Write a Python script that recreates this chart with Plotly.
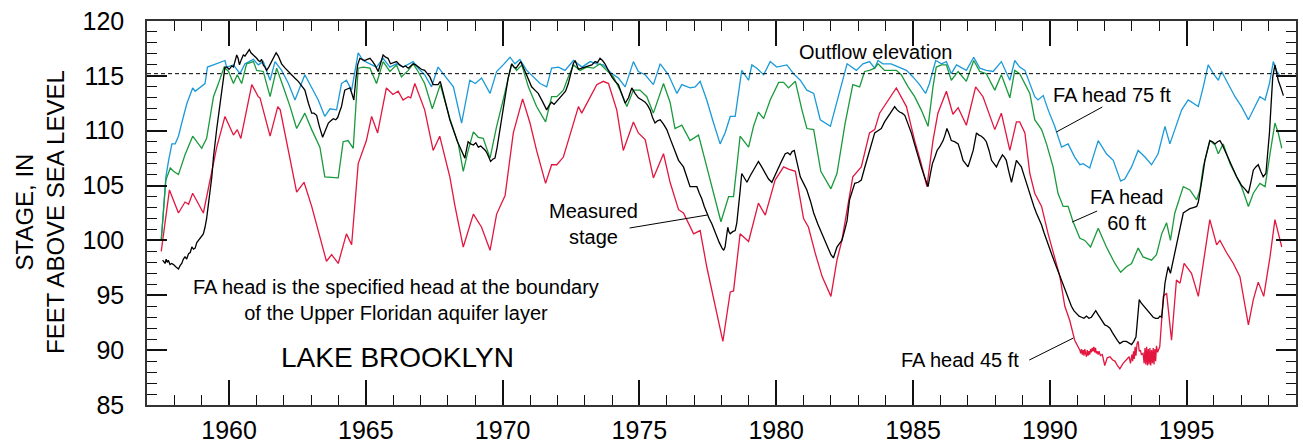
import plotly.graph_objects as go

# Lake Brooklyn stage and simulated stage for three Floridan-aquifer head scenarios

OUTFLOW_ELEV = 115.2

blue_years = [1957.52, 1957.69, 1957.79, 1957.91, 1958.03, 1958.15, 1958.27, 1958.46, 1958.67, 1958.76,
              1959.12, 1959.21, 1959.43, 1959.85, 1959.91, 1960.16, 1960.40, 1960.58, 1960.89, 1961.07,
              1961.25, 1961.50, 1961.68, 1961.92, 1962.17, 1962.41, 1962.77, 1963.02, 1963.26, 1963.50,
              1963.69, 1963.93, 1964.11, 1964.29, 1964.48, 1964.72, 1964.90, 1965.15, 1965.39, 1965.63,
              1965.88, 1966.12, 1966.36, 1966.73, 1966.91, 1967.15, 1967.40, 1967.64, 1967.95, 1968.20,
              1968.50, 1968.80, 1969.00, 1969.23, 1969.54, 1969.78, 1970.02, 1970.27, 1970.45, 1970.63,
              1970.88, 1971.12, 1971.37, 1971.61, 1971.79, 1972.04, 1972.28, 1972.59, 1972.90, 1973.20,
              1973.44, 1973.68, 1973.99, 1974.23, 1974.48, 1974.78, 1974.96, 1975.21, 1975.51, 1975.76,
              1976.06, 1976.37, 1976.55, 1976.85, 1977.04, 1977.22, 1977.46, 1977.71, 1977.95, 1978.13,
              1978.32, 1978.50, 1978.74, 1978.99, 1979.11, 1979.29, 1979.54, 1979.78, 1980.02, 1980.39,
              1980.63, 1980.88, 1981.12, 1981.37, 1981.61, 1981.98, 1982.28, 1982.59, 1982.93, 1983.17,
              1983.41, 1983.60, 1983.72, 1983.90, 1984.20, 1984.51, 1984.76, 1985.00, 1985.24, 1985.46,
              1985.60, 1985.83, 1986.04, 1986.22, 1986.40, 1986.59, 1986.95, 1987.22, 1987.44, 1987.68,
              1987.93, 1988.23, 1988.54, 1988.72, 1988.90, 1989.09, 1989.33, 1989.45, 1989.57, 1989.76,
              1989.94, 1990.18, 1990.43, 1990.67, 1990.91, 1991.10, 1991.22, 1991.46, 1991.77, 1992.07,
              1992.32, 1992.59, 1992.74, 1992.99, 1993.23, 1993.48, 1993.72, 1993.96, 1994.21, 1994.39,
              1994.57, 1994.82, 1995.06, 1995.43, 1995.61, 1995.79, 1995.98, 1996.16, 1996.28, 1996.52,
              1996.77, 1997.01, 1997.26, 1997.50, 1997.68, 1997.87, 1998.03, 1998.17, 1998.30, 1998.41]
blue_vals = [100.0, 105.8, 107.3, 108.8, 108.8, 109.5, 110.7, 112.5, 113.9, 113.6,
             114.3, 115.8, 116.0, 116.4, 115.8, 116.0, 115.2, 116.1, 116.5, 116.0,
             116.3, 114.6, 116.3, 115.5, 114.3, 112.8, 115.1, 113.9, 112.8, 111.3,
             112.0, 111.9, 114.3, 114.6, 113.7, 117.1, 116.4, 116.1, 115.8, 116.6,
             115.8, 116.1, 115.8, 116.3, 115.7, 115.1, 114.0, 115.8, 114.8, 114.0,
             110.7, 114.6, 114.3, 114.8, 113.4, 115.4, 116.0, 116.7, 116.1, 116.5,
             115.5, 114.9, 114.3, 114.0, 115.7, 115.8, 115.5, 116.4, 115.8, 116.3,
             116.1, 116.0, 115.2, 114.8, 114.0, 116.3, 115.4, 115.1, 114.2, 116.1,
             115.1, 113.4, 114.2, 113.9, 114.0, 114.5, 112.8, 110.7, 108.8, 109.8,
             111.3, 111.3, 115.5, 114.6, 116.0, 115.7, 115.1, 116.3, 115.8, 116.0,
             115.2, 114.6, 113.7, 113.4, 111.0, 110.4, 113.1, 116.1, 115.5, 116.1,
             116.3, 115.7, 116.4, 116.1, 116.1, 115.8, 115.5, 114.9, 114.2, 113.4,
             114.3, 116.4, 116.1, 116.3, 115.2, 116.0, 115.5, 116.7, 115.7, 115.5,
             115.4, 116.3, 114.6, 116.4, 115.8, 115.5, 114.0, 113.1, 112.8, 113.2,
             111.9, 110.4, 108.5, 108.8, 107.6, 106.9, 107.0, 106.6, 109.1, 107.9,
             107.3, 105.4, 105.6, 106.7, 108.2, 107.6, 106.9, 107.9, 110.4, 108.8,
             110.1, 111.9, 112.8, 112.2, 114.0, 116.0, 115.2, 114.6, 115.4, 114.3,
             113.1, 112.2, 111.0, 112.2, 113.1, 112.8, 114.3, 116.3, 115.4, 115.0]

green_years = [1957.52, 1957.69, 1957.85, 1957.97, 1958.15, 1958.39, 1958.67, 1959.00, 1959.18, 1959.43,
               1959.61, 1959.82, 1959.98, 1960.16, 1960.30, 1960.46, 1960.64, 1960.89, 1961.01, 1961.25,
               1961.50, 1961.74, 1961.98, 1962.23, 1962.47, 1962.77, 1963.02, 1963.32, 1963.50, 1963.99,
               1964.17, 1964.35, 1964.54, 1964.72, 1964.90, 1965.15, 1965.39, 1965.63, 1965.88, 1966.12,
               1966.30, 1966.55, 1966.73, 1966.91, 1967.15, 1967.43, 1967.72, 1968.07, 1968.38, 1968.56,
               1968.74, 1968.93, 1969.11, 1969.29, 1969.54, 1969.78, 1970.02, 1970.33, 1970.51, 1970.70,
               1970.94, 1971.24, 1971.57, 1971.79, 1971.98, 1972.22, 1972.40, 1972.59, 1972.83, 1973.07,
               1973.32, 1973.56, 1973.80, 1974.05, 1974.29, 1974.54, 1974.78, 1975.02, 1975.27, 1975.51,
               1975.88, 1976.12, 1976.30, 1976.55, 1976.85, 1977.16, 1977.40, 1977.71, 1977.98, 1978.26,
               1978.44, 1978.68, 1978.99, 1979.17, 1979.35, 1979.54, 1979.78, 1980.09, 1980.27, 1980.45,
               1980.70, 1980.94, 1981.12, 1981.37, 1981.63, 1982.00, 1982.22, 1982.52, 1982.80, 1983.05,
               1983.23, 1983.41, 1983.60, 1983.72, 1983.96, 1984.39, 1984.57, 1984.82, 1985.06, 1985.30,
               1985.55, 1985.73, 1985.85, 1986.04, 1986.22, 1986.40, 1986.65, 1986.95, 1987.22, 1987.44,
               1987.68, 1987.99, 1988.23, 1988.54, 1988.72, 1988.90, 1989.09, 1989.27, 1989.45, 1989.70,
               1989.88, 1990.12, 1990.30, 1990.49, 1990.67, 1990.85, 1991.10, 1991.28, 1991.49, 1991.77,
               1992.07, 1992.38, 1992.59, 1992.80, 1992.99, 1993.23, 1993.41, 1993.72, 1993.90, 1994.09,
               1994.27, 1994.41, 1994.57, 1994.88, 1995.12, 1995.37, 1995.49, 1995.61, 1995.85, 1996.04,
               1996.16, 1996.34, 1996.59, 1996.83, 1997.01, 1997.26, 1997.44, 1997.68, 1997.87, 1998.05,
               1998.23, 1998.35, 1998.48]
green_vals = [100.0, 105.5, 106.6, 106.3, 106.0, 107.8, 109.5, 108.4, 109.3, 113.1,
              114.3, 115.8, 115.4, 114.3, 115.1, 114.3, 116.1, 116.3, 115.5, 115.4,
              113.1, 115.7, 114.0, 112.2, 110.2, 111.6, 110.1, 108.5, 105.8, 105.7,
              109.0, 109.1, 108.4, 115.7, 115.8, 115.7, 114.3, 116.3, 115.4, 116.0,
              114.9, 115.5, 116.1, 115.4, 114.3, 112.0, 114.2, 111.1, 108.8, 106.3,
              108.2, 109.9, 109.4, 109.3, 107.5, 110.4, 112.8, 116.1, 115.5, 116.0,
              114.0, 112.2, 110.8, 113.1, 113.1, 113.7, 114.9, 116.0, 115.5, 115.8,
              115.7, 116.1, 115.5, 114.9, 113.7, 112.2, 113.7, 113.7, 113.1, 111.6,
              114.3, 112.6, 110.2, 110.5, 109.1, 109.6, 107.3, 104.3, 101.7, 104.0,
              104.0, 109.5, 108.5, 110.4, 111.7, 111.1, 112.8, 114.4, 114.4, 113.9,
              114.5, 111.9, 110.2, 110.1, 106.3, 104.7, 106.1, 110.7, 114.2, 114.0,
              115.4, 115.5, 115.7, 116.1, 115.5, 115.5, 115.1, 114.0, 113.1, 111.9,
              110.4, 114.0, 115.8, 116.0, 116.0, 114.6, 115.4, 114.5, 116.4, 115.4,
              115.2, 113.7, 115.1, 113.0, 115.5, 115.2, 114.3, 113.4, 111.0, 110.1,
              108.8, 106.7, 104.3, 103.1, 103.1, 101.7, 100.2, 100.0, 99.4, 101.1,
              99.4, 97.9, 97.1, 97.6, 97.9, 99.3, 98.5, 98.2, 98.7, 100.6,
              101.6, 100.0, 102.5, 104.9, 104.6, 103.7, 104.6, 106.7, 109.1, 108.7,
              107.9, 108.8, 107.0, 105.8, 104.9, 103.1, 104.3, 105.2, 104.9, 107.9,
              110.7, 109.8, 108.4]

red_years = [1957.52, 1957.82, 1958.15, 1958.39, 1958.52, 1958.67, 1959.06, 1959.55, 1959.85, 1960.16,
             1960.30, 1960.43, 1960.83, 1961.07, 1961.13, 1961.50, 1961.78, 1961.87, 1962.47, 1962.74,
             1963.02, 1963.26, 1963.56, 1963.75, 1963.99, 1964.29, 1964.48, 1964.72, 1965.02, 1965.21,
             1965.43, 1965.75, 1965.99, 1966.18, 1966.36, 1966.55, 1966.64, 1966.79, 1967.15, 1967.46,
             1967.70, 1968.07, 1968.26, 1968.56, 1968.93, 1969.23, 1969.54, 1969.78, 1970.09, 1970.39,
             1970.73, 1971.00, 1971.24, 1971.57, 1971.79, 1971.98, 1972.22, 1972.52, 1972.77, 1972.89,
             1973.13, 1973.44, 1973.68, 1973.87, 1974.17, 1974.41, 1974.78, 1974.96, 1975.21, 1975.51,
             1975.88, 1976.12, 1976.43, 1976.61, 1976.98, 1977.22, 1977.46, 1977.77, 1978.05, 1978.32,
             1978.44, 1978.68, 1978.99, 1979.35, 1979.60, 1979.96, 1980.27, 1980.45, 1980.70, 1981.00,
             1981.18, 1981.43, 1981.68, 1982.00, 1982.22, 1982.40, 1982.80, 1983.11, 1983.41, 1983.60,
             1983.78, 1984.39, 1984.76, 1985.06, 1985.30, 1985.51, 1985.73, 1985.91, 1986.22, 1986.46,
             1986.65, 1986.95, 1987.29, 1987.56, 1987.80, 1987.99, 1988.23, 1988.54, 1988.78, 1988.90,
             1989.09, 1989.27, 1989.45, 1989.70, 1989.94, 1990.18, 1990.37, 1990.55, 1990.73, 1990.91,
             1991.10, 1991.13, 1991.16, 1991.19, 1991.22, 1991.25, 1991.28, 1991.31, 1991.34, 1991.37,
             1991.40, 1991.43, 1991.46, 1991.49, 1991.52, 1991.55, 1991.58, 1991.61, 1991.64, 1991.67,
             1991.70, 1991.73, 1991.77, 1991.80, 1991.85, 1991.92, 1992.01, 1992.10, 1992.20, 1992.30,
             1992.38, 1992.47, 1992.56, 1992.68, 1992.80, 1992.90, 1992.95, 1993.00, 1993.03, 1993.06,
             1993.09, 1993.12, 1993.15, 1993.19, 1993.23, 1993.27, 1993.31, 1993.35, 1993.41, 1993.45,
             1993.48, 1993.51, 1993.54, 1993.57, 1993.60, 1993.63, 1993.66, 1993.69, 1993.72, 1993.75,
             1993.78, 1993.81, 1993.84, 1993.87, 1993.90, 1993.94, 1994.02, 1994.15, 1994.27, 1994.45,
             1994.63, 1994.76, 1994.91, 1995.18, 1995.43, 1995.67, 1995.85, 1996.10, 1996.22, 1996.46,
             1996.71, 1996.95, 1997.26, 1997.44, 1997.62, 1997.82, 1998.05, 1998.23, 1998.35, 1998.48]
red_vals = [99.0, 104.6, 102.5, 103.5, 103.3, 104.3, 102.5, 108.5, 111.3, 109.6,
            110.1, 109.3, 114.2, 113.1, 113.0, 109.5, 112.2, 111.9, 104.4, 105.3,
            103.1, 100.9, 98.1, 98.7, 97.9, 100.6, 99.6, 107.0, 109.1, 111.3,
            109.8, 113.9, 113.3, 113.6, 112.8, 113.1, 113.0, 114.3, 111.9, 108.2,
            109.5, 105.8, 103.1, 99.4, 102.4, 101.2, 99.1, 102.4, 104.1, 109.8,
            112.9, 110.7, 108.2, 105.2, 106.9, 106.9, 107.6, 110.1, 112.2, 111.6,
            112.8, 114.2, 114.5, 114.3, 111.9, 108.2, 110.8, 109.8, 109.2, 105.7,
            107.9, 105.3, 102.8, 102.5, 100.6, 100.9, 97.6, 94.0, 90.8, 95.3,
            95.4, 100.6, 99.9, 103.4, 102.3, 105.5, 106.7, 106.5, 106.3, 102.0,
            101.2, 98.8, 96.7, 94.9, 98.2, 100.0, 105.8, 106.7, 109.8, 110.1,
            111.6, 113.9, 112.2, 109.1, 107.0, 104.9, 109.1, 111.6, 113.6, 111.5,
            112.1, 110.5, 114.0, 113.1, 111.4, 110.1, 111.6, 108.2, 110.8, 110.8,
            109.8, 106.1, 104.3, 103.1, 100.6, 98.5, 96.7, 94.0, 92.7, 90.9,
            90.0, 89.7, 90.1, 89.6, 90.0, 89.5, 90.1, 89.7, 89.4, 90.0,
            89.5, 89.9, 89.6, 90.1, 89.8, 90.2, 89.9, 90.3, 89.8, 90.2,
            89.7, 89.9, 89.6, 89.9, 89.5, 89.6, 88.6, 89.3, 89.4, 89.1,
            89.0, 88.6, 88.3, 88.8, 89.1, 89.4, 88.8, 89.6, 89.0, 89.9,
            89.2, 90.3, 89.5, 90.6, 90.8, 89.9, 90.0, 89.6, 89.7, 88.8,
            90.2, 88.7, 90.3, 88.6, 90.1, 88.7, 90.2, 88.6, 90.0, 88.8,
            90.2, 88.7, 90.1, 89.0, 90.4, 89.8, 90.3, 94.9, 95.2, 90.9,
            96.4, 96.1, 97.9, 97.0, 94.9, 99.1, 101.9, 99.6, 100.0, 98.9,
            97.9, 96.7, 92.3, 94.6, 96.2, 94.9, 98.5, 101.9, 100.6, 99.4]

stage_years = [1957.57, 1957.62, 1957.66, 1957.70, 1957.74, 1957.78, 1957.84, 1957.90, 1957.97, 1958.05,
               1958.10, 1958.15, 1958.21, 1958.27, 1958.33, 1958.39, 1958.45, 1958.52, 1958.58, 1958.64,
               1958.70, 1958.76, 1958.82, 1958.88, 1958.94, 1959.00, 1959.06, 1959.12, 1959.18, 1959.25,
               1959.31, 1959.37, 1959.43, 1959.49, 1959.55, 1959.61, 1959.67, 1959.73, 1959.79, 1959.85,
               1959.92, 1960.00, 1960.04, 1960.10, 1960.16, 1960.22, 1960.28, 1960.33, 1960.38, 1960.45,
               1960.52, 1960.58, 1960.64, 1960.70, 1960.74, 1960.80, 1960.89, 1960.95, 1961.01, 1961.07,
               1961.13, 1961.19, 1961.25, 1961.31, 1961.37, 1961.45, 1961.55, 1961.65, 1961.72, 1961.80,
               1961.92, 1962.05, 1962.23, 1962.40, 1962.53, 1962.65, 1962.77, 1962.90, 1963.02, 1963.10,
               1963.20, 1963.30, 1963.42, 1963.50, 1963.57, 1963.63, 1963.72, 1963.81, 1963.90, 1963.97,
               1964.05, 1964.11, 1964.17, 1964.23, 1964.32, 1964.42, 1964.50, 1964.56, 1964.63, 1964.70,
               1964.78, 1964.87, 1964.96, 1965.05, 1965.15, 1965.25, 1965.33, 1965.45, 1965.55, 1965.63,
               1965.72, 1965.81, 1965.90, 1966.00, 1966.12, 1966.24, 1966.36, 1966.45, 1966.55, 1966.64,
               1966.73, 1966.82, 1966.91, 1967.03, 1967.15, 1967.25, 1967.34, 1967.46, 1967.55, 1967.64,
               1967.72, 1967.82, 1967.89, 1968.07, 1968.16, 1968.26, 1968.35, 1968.44, 1968.53, 1968.62,
               1968.68, 1968.74, 1968.83, 1968.93, 1969.02, 1969.11, 1969.20, 1969.29, 1969.37, 1969.44,
               1969.50, 1969.56, 1969.64, 1969.72, 1969.80, 1969.90, 1970.00, 1970.09, 1970.20, 1970.33,
               1970.41, 1970.49, 1970.57, 1970.66, 1970.77, 1970.88, 1970.97, 1971.06, 1971.18, 1971.30,
               1971.45, 1971.61, 1971.70, 1971.79, 1971.88, 1971.98, 1972.10, 1972.22, 1972.30, 1972.40,
               1972.46, 1972.52, 1972.58, 1972.65, 1972.71, 1972.77, 1972.89, 1973.01, 1973.13, 1973.26,
               1973.38, 1973.47, 1973.56, 1973.65, 1973.74, 1973.86, 1973.99, 1974.11, 1974.23, 1974.35,
               1974.48, 1974.60, 1974.72, 1974.84, 1974.96, 1975.09, 1975.21, 1975.30, 1975.39, 1975.48,
               1975.57, 1975.66, 1975.76, 1975.88, 1976.00, 1976.12, 1976.24, 1976.33, 1976.43, 1976.52,
               1976.61, 1976.73, 1976.85, 1976.97, 1977.10, 1977.19, 1977.28, 1977.37, 1977.46, 1977.55,
               1977.65, 1977.74, 1977.83, 1977.92, 1978.02, 1978.08, 1978.13, 1978.18, 1978.23, 1978.27,
               1978.32, 1978.41, 1978.50, 1978.56, 1978.62, 1978.68, 1978.74, 1978.84, 1978.93, 1979.05,
               1979.17, 1979.26, 1979.35, 1979.47, 1979.60, 1979.72, 1979.84, 1979.96, 1980.09, 1980.21,
               1980.33, 1980.42, 1980.51, 1980.58, 1980.66, 1980.77, 1980.88, 1981.00, 1981.12, 1981.25,
               1981.37, 1981.52, 1981.68, 1981.80, 1981.93, 1982.00, 1982.09, 1982.15, 1982.22, 1982.31,
               1982.40, 1982.50, 1982.59, 1982.68, 1982.78, 1982.87, 1983.00, 1983.11, 1983.23, 1983.35,
               1983.47, 1983.60, 1983.72, 1983.84, 1983.96, 1984.09, 1984.21, 1984.33, 1984.42, 1984.51,
               1984.60, 1984.70, 1984.82, 1984.94, 1985.03, 1985.12, 1985.21, 1985.30, 1985.42, 1985.55,
               1985.63, 1985.71, 1985.80, 1985.88, 1985.99, 1986.10, 1986.17, 1986.24, 1986.32, 1986.40,
               1986.52, 1986.65, 1986.74, 1986.83, 1986.92, 1987.01, 1987.10, 1987.20, 1987.26, 1987.32,
               1987.41, 1987.50, 1987.59, 1987.68, 1987.78, 1987.87, 1987.96, 1988.05, 1988.16, 1988.27,
               1988.34, 1988.41, 1988.50, 1988.60, 1988.69, 1988.78, 1988.87, 1988.96, 1989.05, 1989.15,
               1989.24, 1989.33, 1989.42, 1989.51, 1989.60, 1989.70, 1989.79, 1989.88, 1989.97, 1990.06,
               1990.15, 1990.24, 1990.33, 1990.43, 1990.52, 1990.61, 1990.70, 1990.79, 1990.88, 1990.98,
               1991.07, 1991.16, 1991.25, 1991.34, 1991.43, 1991.52, 1991.60, 1991.68, 1991.75, 1991.83,
               1991.92, 1992.01, 1992.10, 1992.20, 1992.29, 1992.38, 1992.47, 1992.56, 1992.68, 1992.80,
               1992.90, 1992.99, 1993.07, 1993.15, 1993.21, 1993.27, 1993.34, 1993.41, 1993.50, 1993.60,
               1993.69, 1993.78, 1993.87, 1993.96, 1994.03, 1994.09, 1994.15, 1994.21, 1994.27, 1994.33,
               1994.41, 1994.51, 1994.60, 1994.70, 1994.79, 1994.88, 1995.00, 1995.12, 1995.25, 1995.37,
               1995.43, 1995.49, 1995.58, 1995.67, 1995.76, 1995.85, 1995.95, 1996.04, 1996.13, 1996.22,
               1996.31, 1996.40, 1996.50, 1996.59, 1996.71, 1996.83, 1996.92, 1997.01, 1997.13, 1997.26,
               1997.35, 1997.44, 1997.53, 1997.62, 1997.71, 1997.80, 1997.90, 1998.03, 1998.09, 1998.15,
               1998.23, 1998.29, 1998.35, 1998.45, 1998.54]
stage_vals = [98.2, 98.0, 97.9, 98.3, 98.0, 98.2, 97.8, 97.9, 97.8, 97.6,
              97.5, 97.4, 97.7, 97.9, 98.3, 98.5, 98.3, 98.8, 98.9, 99.4,
              99.2, 99.3, 99.8, 100.0, 100.1, 100.3, 100.6, 101.2, 102.0, 103.4,
              104.5, 105.8, 107.6, 109.1, 110.2, 111.3, 112.4, 113.7, 114.8, 115.8,
              115.8, 115.6, 115.7, 115.9, 115.8, 116.4, 116.9, 116.6, 116.0, 116.5,
              116.9, 116.8, 117.0, 117.2, 117.4, 117.1, 116.9, 116.8, 116.6, 116.4,
              116.3, 116.5, 116.0, 115.8, 115.5, 115.8, 116.3, 116.8, 117.1, 116.8,
              116.1, 115.7, 115.2, 114.8, 114.5, 114.1, 113.7, 112.5, 111.6, 111.6,
              111.4, 110.4, 109.4, 109.9, 110.4, 110.7, 110.9, 111.1, 111.0, 111.2,
              111.8, 112.2, 113.0, 113.7, 113.8, 113.9, 113.3, 112.8, 114.6, 116.0,
              116.6, 116.5, 116.4, 116.5, 116.6, 116.3, 116.0, 115.4, 116.3, 116.9,
              116.7, 116.6, 116.1, 116.2, 116.3, 116.0, 115.8, 115.9, 115.7, 115.9,
              116.1, 116.0, 115.8, 115.6, 115.5, 115.2, 114.9, 114.2, 114.2, 114.2,
              114.5, 113.4, 112.8, 111.0, 110.3, 109.6, 109.0, 108.5, 108.0, 107.5,
              108.3, 109.0, 108.8, 108.7, 108.9, 108.5, 108.6, 108.4, 108.2, 107.9,
              107.5, 107.2, 107.4, 107.5, 108.5, 110.1, 111.8, 113.1, 114.8, 116.1,
              115.8, 115.7, 116.0, 116.3, 115.7, 115.1, 114.6, 114.0, 113.7, 113.4,
              112.7, 111.9, 112.3, 112.6, 112.4, 112.7, 113.0, 113.4, 113.6, 114.3,
              114.9, 115.7, 116.1, 116.4, 115.9, 115.6, 115.7, 115.8, 115.9, 116.0,
              116.3, 116.2, 116.6, 116.4, 116.1, 115.5, 114.9, 114.5, 114.2, 113.4,
              112.5, 113.0, 113.9, 113.4, 113.0, 112.8, 112.6, 112.3, 111.9, 111.2,
              110.7, 110.9, 111.0, 110.6, 110.1, 109.3, 108.5, 108.0, 107.3, 107.0,
              106.7, 105.8, 104.9, 104.9, 104.9, 104.3, 103.8, 103.1, 102.5, 102.0,
              101.5, 100.9, 100.3, 99.8, 99.3, 99.1, 99.4, 100.4, 101.2, 100.8,
              100.6, 100.8, 100.9, 101.6, 102.8, 104.5, 106.1, 105.7, 105.3, 105.9,
              106.4, 106.8, 107.2, 106.7, 106.1, 105.6, 105.3, 106.0, 106.7, 107.3,
              107.9, 108.0, 107.8, 108.1, 108.2, 107.0, 105.8, 105.2, 104.6, 103.6,
              102.5, 101.5, 100.6, 99.9, 99.1, 98.7, 98.4, 98.9, 99.4, 99.7,
              100.0, 100.9, 101.8, 103.7, 104.5, 105.2, 105.3, 105.5, 106.6, 107.6,
              108.7, 109.8, 110.0, 110.2, 110.8, 111.3, 111.8, 112.2, 111.9, 111.7,
              111.6, 111.4, 110.6, 109.8, 109.0, 108.2, 107.5, 106.7, 105.8, 104.9,
              106.0, 107.0, 107.6, 108.2, 108.6, 109.1, 109.6, 110.2, 109.7, 109.1,
              109.0, 108.8, 108.1, 107.3, 107.0, 106.7, 107.4, 108.2, 109.0, 109.8,
              109.6, 109.5, 109.3, 109.0, 108.2, 107.3, 107.0, 106.7, 107.3, 107.8,
              107.6, 107.3, 106.3, 105.3, 106.3, 107.3, 107.0, 106.7, 106.0, 105.2,
              104.5, 103.7, 103.1, 102.5, 102.0, 101.4, 100.7, 100.0, 99.4, 98.8,
              98.2, 97.6, 97.0, 96.4, 95.8, 95.2, 94.6, 94.0, 93.6, 93.3,
              93.1, 93.0, 92.9, 93.1, 92.9, 93.0, 93.3, 93.6, 93.3, 93.0,
              92.6, 92.3, 92.2, 92.0, 91.6, 91.2, 90.9, 90.6, 90.8, 90.8,
              90.6, 90.5, 90.8, 91.2, 92.9, 94.6, 94.3, 94.1, 93.8, 93.5,
              93.2, 93.0, 92.9, 92.9, 93.1, 93.0, 94.5, 96.1, 96.9, 97.6,
              97.0, 98.2, 99.4, 100.6, 101.6, 102.5, 102.7, 102.9, 103.0, 103.1,
              103.5, 104.3, 105.8, 107.3, 108.2, 109.1, 109.0, 108.8, 109.0, 109.1,
              108.7, 108.2, 107.6, 107.0, 106.4, 105.8, 105.4, 105.0, 104.7, 104.3,
              105.3, 106.4, 106.7, 106.9, 106.3, 105.8, 106.1, 109.8, 112.4, 114.9,
              116.0, 115.3, 114.6, 113.9, 113.2]

FONT = "Liberation Sans, Arial, Helvetica, sans-serif"
LINE_W = 1.3

fig = go.Figure()
fig.add_trace(go.Scatter(x=blue_years, y=blue_vals, mode="lines",
                         line=dict(color="#1b9ad8", width=LINE_W), name="FA head 75 ft"))
fig.add_trace(go.Scatter(x=green_years, y=green_vals, mode="lines",
                         line=dict(color="#1a9a3c", width=LINE_W), name="FA head 60 ft"))
fig.add_trace(go.Scatter(x=red_years, y=red_vals, mode="lines",
                         line=dict(color="#e2163f", width=LINE_W), name="FA head 45 ft"))
fig.add_trace(go.Scatter(x=stage_years, y=stage_vals, mode="lines",
                         line=dict(color="#000000", width=LINE_W), name="Measured stage"))

# outflow elevation reference line
fig.add_shape(type="line", xref="x domain", yref="y", x0=0, x1=1,
              y0=OUTFLOW_ELEV, y1=OUTFLOW_ELEV,
              line=dict(color="black", width=1, dash="4px,3px"))

# leader lines from labels to curves
leaders = [
    ((1974.64, 101.13), (1977.49, 102.32)),
    ((1991.92, 112.16), (1990.24, 109.88)),
    ((1991.73, 102.68), (1990.82, 101.68)),
    ((1989.25, 89.10), (1990.86, 91.10)),
]
for (xa, ya), (xb, yb) in leaders:
    fig.add_shape(type="line", xref="x", yref="y", x0=xa, y0=ya, x1=xb, y1=yb,
                  line=dict(color="black", width=1))

txt = dict(family=FONT, size=20, color="black")
labels = [
    (1983.63, 117.17, "Outflow elevation", txt),
    (1966.09, 94.57, "FA head is the specified head at the boundary<br>of the Upper Floridan aquifer layer", txt),
    (1966.16, 89.37, "LAKE BROOKLYN", dict(family=FONT, size=28, color="black")),
    (1973.33, 101.50, "Measured<br>stage", txt),
    (1992.28, 113.25, "FA head 75 ft", txt),
    (1992.79, 102.77, "FA head<br>60 ft", txt),
    (1986.73, 89.10, "FA head 45 ft", txt),
]
for x, y, t, f in labels:
    fig.add_annotation(x=x, y=y, xref="x", yref="y", text=t, showarrow=False,
                       font=f, xanchor="center", yanchor="middle", align="center")

fig.add_annotation(x=-0.0931, y=0.503, xref="paper", yref="paper",
                   text="STAGE, IN<br>FEET ABOVE SEA LEVEL", textangle=-90, showarrow=False,
                   font=dict(family=FONT, size=24, color="black"),
                   xanchor="center", yanchor="middle", align="center")

axis_common = dict(showline=True, linecolor="#333333", linewidth=1.5, mirror="allticks",
                   ticks="inside", tickcolor="#111111", tickwidth=2, showgrid=False, zeroline=False,
                   automargin=False, tickfont=dict(family=FONT, size=25, color="black"))

fig.update_xaxes(range=[1957, 1999], tickmode="linear", tick0=1960, dtick=5, ticklen=25,
                 minor=dict(ticks="inside", dtick=1, tick0=1957, ticklen=10, tickwidth=1.3,
                            tickcolor="#111111", showgrid=False),
                 ticklabelstandoff=2, **axis_common)
fig.update_yaxes(range=[85, 120], tickmode="linear", tick0=85, dtick=5, ticklen=20,
                 minor=dict(ticks="inside", dtick=1, tick0=85, ticklen=10, tickwidth=1.3,
                            tickcolor="#111111", showgrid=False),
                 ticklabelstandoff=16, **axis_common)

fig.update_layout(width=1303, height=445, margin=dict(l=147, r=7, t=21, b=40, autoexpand=False),
                  paper_bgcolor="white", plot_bgcolor="white", showlegend=False,
                  font=dict(family=FONT, color="black"))

fig.write_html("out.html")
